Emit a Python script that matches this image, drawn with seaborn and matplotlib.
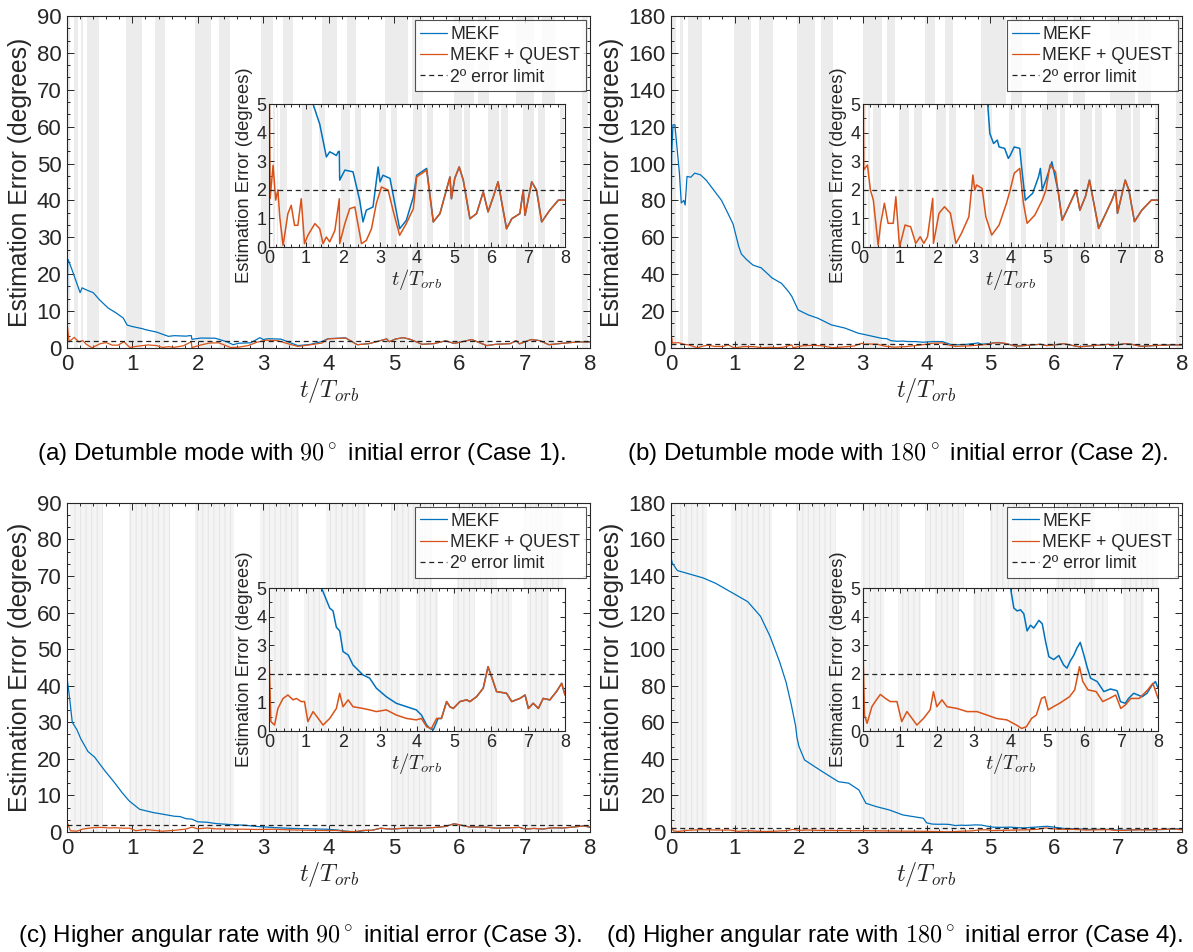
import matplotlib
matplotlib.use('Agg')
import matplotlib.pyplot as plt
from matplotlib.ticker import MultipleLocator, AutoMinorLocator
import pandas as pd
import seaborn as sns

# ---------------- data ----------------
# panel (a): detumble mode, 90 deg initial error
a_quest_t = [0, 0.008, 0.03, 0.11, 0.18, 0.24, 0.29, 0.38, 0.51, 0.6, 0.69, 0.78, 0.87, 0.96, 1.05,
             1.24, 1.37, 1.46, 1.55, 1.64, 1.78, 1.9, 1.91, 2.05, 2.18, 2.32, 2.5, 2.63, 2.77, 2.9,
             3.04, 3.22, 3.35, 3.53, 3.71, 3.9, 3.99, 4.26, 4.44, 4.62, 4.89, 4.93, 5.02, 5.14, 5.25,
             5.43, 5.61, 5.79, 5.92, 6.06, 6.19, 6.42, 6.56, 6.78, 6.87, 6.92, 7.1, 7.23, 7.37, 7.59,
             7.82, 8.0]
a_quest_v = [0.3, 5.6, 1.7, 2.86, 1.64, 2.0, 1.05, 0.06, 1.17, 1.46, 0.76, 0.76, 1.69, 0.12, 0.41,
             0.82, 0.64, 0.12, 0.35, 0.18, 0.58, 1.69, 0.12, 0.82, 1.34, 1.4, 0.12, 0.23, 0.64, 1.52,
             2.1, 1.99, 1.29, 0.41, 0.82, 1.34, 2.45, 2.69, 0.88, 1.17, 2.45, 1.69, 2.4, 2.8, 2.34,
             0.99, 1.17, 1.93, 1.23, 1.75, 2.28, 0.64, 0.99, 1.17, 1.99, 1.11, 2.28, 1.99, 0.88, 1.29,
             1.64, 1.64]
a_mekf_t = [0, 0.01, 0.02, 0.08, 0.12, 0.2, 0.23, 0.3, 0.4, 0.5, 0.63, 0.75, 0.86, 0.92, 1.0, 1.16,
            1.19, 1.37, 1.55, 1.64, 1.73, 1.82, 1.87, 1.9, 1.91, 2.05, 2.27, 2.45, 2.54, 2.63, 2.81,
            2.95, 3.0, 3.08, 3.27, 3.53, 3.71, 3.9, 3.99, 4.26]
a_mekf_v = [0.7, 24, 23.8, 21, 19, 15, 16.3, 15.7, 15, 13, 10.8, 9.5, 8.1, 6.2, 5.8, 5.2,
            5.0, 4.3, 3.15, 3.33, 3.27, 3.2, 3.33, 3.35, 2.34, 2.69, 2.63, 1.64, 0.88, 1.29, 1.4,
            2.8, 2.28, 2.51, 2.4, 0.64, 0.93, 1.75, 2.51, 2.75]
a_bands = [(0.0, 0.05), (0.1, 0.17), (0.21, 0.25), (0.3, 0.49), (0.9, 1.15), (1.35, 1.5),
           (1.95, 2.2), (2.33, 2.49), (2.96, 3.15), (3.3, 3.46), (3.9, 4.13), (4.28, 4.42),
           (4.87, 5.22), (5.27, 5.44), (5.92, 6.22), (6.28, 6.45), (6.86, 7.15), (7.27, 7.47),
           (7.87, 7.97)]

# panel (b): detumble mode, 180 deg initial error
b_quest_t = [0, 0.008, 0.02, 0.12, 0.2, 0.28, 0.41, 0.48, 0.58, 0.68, 0.82, 0.89, 0.99, 1.14, 1.29,
             1.43, 1.55, 1.65, 1.75, 1.89, 1.91, 2.06, 2.21, 2.37, 2.52, 2.67, 2.87, 2.98, 3.03, 3.08,
             3.23, 3.33, 3.49, 3.69, 3.89, 3.99, 4.1, 4.25, 4.35, 4.45, 4.66, 4.86, 4.96, 5.07, 5.22,
             5.32, 5.4, 5.53, 5.78, 5.88, 6.03, 6.14, 6.39, 6.54, 6.75, 6.85, 6.9, 7.11, 7.21, 7.36,
             7.56, 7.82, 8.0]
b_quest_v = [0.3, 5.6, 2.7, 2.87, 2.0, 1.64, 0.07, 0.83, 1.53, 0.83, 0.83, 1.76, 0.0, 0.77, 0.71,
             0.13, 0.36, 0.13, 0.36, 1.7, 0.13, 1.18, 1.41, 1.18, 0.13, 0.48, 1.06, 2.52, 1.99, 2.17,
             2.05, 1.06, 0.42, 0.77, 1.53, 1.99, 2.58, 2.75, 1.53, 0.83, 1.12, 1.64, 1.99, 2.87, 2.63,
             1.64, 0.94, 1.29, 1.99, 1.29, 1.76, 2.34, 0.65, 1.06, 1.64, 1.99, 1.18, 2.34, 1.99, 0.89,
             1.29, 1.64, 1.64]
b_mekf_t = [0, 0.01, 0.03, 0.06, 0.13, 0.16, 0.2, 0.22, 0.25, 0.31, 0.37, 0.46, 0.55, 0.67, 0.79,
            0.88, 0.97, 1.06, 1.1, 1.18, 1.28, 1.36, 1.41, 1.58, 1.73, 1.84, 1.89, 1.99, 2.15, 2.3,
            2.51, 2.72, 2.93, 3.04, 3.3, 3.38, 3.44, 3.54, 3.64, 3.69, 3.84, 3.94, 3.99, 4.1, 4.25,
            4.3, 4.4, 4.6, 4.76, 4.81, 4.86, 4.96, 5.12, 5.3]
b_mekf_v = [60, 105, 121, 121, 95, 78.6, 80, 77.5, 93, 92.6, 94.8, 93.9, 91, 85.5, 80,
            73.7, 67.3, 55, 51, 48, 45, 44, 43.5, 38, 35, 30.5, 28, 20.6, 17.9, 16.1,
            12.5, 10.8, 8, 7.2, 5.2, 5.0, 3.97, 3.62, 3.74, 3.5, 3.45, 3.1, 3.2, 3.5, 3.45,
            2.8, 1.64, 1.88, 2.46, 2.75, 2.0, 2.34, 2.98, 1.9]
b_bands = [(0.02, 0.07), (0.14, 0.19), (0.27, 0.48), (0.98, 1.25), (1.38, 1.6), (1.97, 2.25),
           (2.34, 2.53), (3.0, 3.3), (3.38, 3.5), (3.97, 4.13), (4.29, 4.42), (4.86, 5.25),
           (5.33, 5.49), (5.88, 6.22), (6.3, 6.48), (6.87, 7.27), (7.31, 7.52), (7.91, 7.99)]

# panel (c): higher angular rate, 90 deg initial error
c_quest_t = [0, 0.05, 0.15, 0.24, 0.38, 0.51, 0.65, 0.74, 0.87, 0.96, 1.05, 1.19, 1.33, 1.46, 1.64,
             1.82, 1.91, 2.0, 2.14, 2.27, 2.54, 2.72, 2.9, 3.17, 3.44, 3.72, 3.98, 4.12, 4.26, 4.39,
             4.53, 4.66, 4.8, 4.89, 4.98, 5.16, 5.34, 5.43, 5.61, 5.79, 5.92, 6.06, 6.15, 6.42, 6.56,
             6.78, 6.92, 7.01, 7.14, 7.28, 7.41, 7.59, 7.77, 7.91, 8.0]
c_quest_v = [2.78, 0.33, 0.21, 0.79, 1.14, 1.26, 1.09, 1.14, 1.03, 1.03, 0.33, 0.68, 0.44, 0.21, 0.44,
             0.79, 1.32, 0.85, 1.09, 0.85, 0.79, 0.74, 0.68, 0.74, 0.56, 0.44, 0.39, 0.44, 0.15, 0.09,
             0.44, 0.44, 1.03, 0.85, 0.79, 1.03, 1.09, 1.03, 1.2, 1.5, 2.25, 1.73, 1.38, 1.32, 1.03,
             1.14, 1.26, 0.79, 0.97, 0.79, 1.14, 1.09, 1.38, 1.67, 1.26]
c_mekf_t = [0, 0.03, 0.08, 0.15, 0.21, 0.32, 0.42, 0.58, 0.73, 0.84, 0.95, 1.11, 1.32, 1.42, 1.64,
            1.73, 1.82, 1.91, 2.0, 2.14, 2.27, 2.54, 2.72, 2.9, 3.17, 3.44, 3.72, 3.98, 4.12, 4.26,
            4.35, 4.44, 4.57]
c_mekf_v = [42, 38, 30, 28, 25.5, 22, 20.5, 16.7, 13.4, 10.8, 8.5, 6.2, 5.3, 5.0, 4.3,
            4.2, 3.63, 3.5, 2.78, 2.66, 2.31, 1.96, 1.85, 1.5, 1.2, 0.97, 0.85, 0.74, 0.56, 0.21,
            0.09, 0.04, 0.44]
c_bands = [(0.05, 0.55), (0.95, 1.57), (1.95, 2.55), (2.95, 3.55), (3.96, 4.58), (4.96, 5.58),
           (5.97, 6.58), (6.98, 7.58)]

# panel (d): higher angular rate, 180 deg initial error
d_quest_t = [0, 0.04, 0.11, 0.24, 0.33, 0.47, 0.61, 0.74, 0.92, 1.05, 1.19, 1.33, 1.46, 1.64, 1.82,
             1.91, 2.0, 2.14, 2.28, 2.55, 2.82, 3.09, 3.36, 3.62, 3.9, 4.16, 4.3, 4.43, 4.57, 4.7,
             4.84, 4.93, 5.02, 5.16, 5.33, 5.47, 5.6, 5.74, 5.87, 5.96, 6.1, 6.32, 6.5, 6.68, 6.85,
             6.99, 7.12, 7.26, 7.49, 7.72, 7.86, 8.0]
d_quest_v = [2.78, 0.56, 0.27, 0.85, 1.03, 1.28, 1.14, 1.03, 1.03, 0.33, 0.68, 0.44, 0.21, 0.44, 0.74,
             1.38, 0.85, 1.09, 0.85, 0.79, 0.68, 0.68, 0.56, 0.44, 0.39, 0.21, 0.09, 0.15, 0.44, 0.56,
             1.14, 1.2, 0.74, 0.85, 0.97, 1.09, 1.2, 1.44, 2.25, 1.73, 1.44, 1.38, 1.03, 1.14, 1.26,
             0.79, 0.92, 1.14, 1.14, 1.44, 1.67, 1.14]
d_mekf_t = [0, 0.02, 0.1, 0.3, 0.5, 0.7, 0.9, 1.05, 1.2, 1.4, 1.55, 1.7, 1.8, 1.88,
            1.95, 1.97, 2.0, 2.09, 2.25, 2.41, 2.62, 2.78, 2.94, 3.05, 3.21, 3.42, 3.63, 3.95, 4.0,
            4.09, 4.18, 4.27, 4.36, 4.45, 4.54, 4.63, 4.77, 4.86, 4.95, 5.04, 5.17, 5.31, 5.44, 5.53,
            5.62, 5.71, 5.8, 5.89, 5.98, 6.08, 6.17, 6.35, 6.53, 6.71, 6.89, 6.98, 7.11, 7.2, 7.34,
            7.57, 7.7, 7.84, 7.93, 8.0]
d_mekf_v = [150, 147, 143, 141, 139, 136, 132, 129, 126, 118, 107, 93, 82, 70,
            58, 52, 47, 39.4, 35.7, 32.1, 27.5, 26.7, 23, 15.7, 13.9, 12, 9.3, 7.5, 5.0,
            4.3, 4.2, 4.24, 4.1, 3.5, 3.7, 3.6, 3.87, 3.75, 3.13, 2.6, 2.5, 2.64, 2.31, 2.2,
            2.45, 2.64, 2.9, 3.1, 2.7, 2.22, 1.85, 1.73, 1.38, 1.47, 1.41, 1.03, 0.97, 1.14, 1.32,
            1.2, 1.32, 1.61, 1.73, 1.5]
d_bands = [(0.01, 0.57), (0.94, 1.58), (1.96, 2.59), (2.97, 3.58), (3.98, 4.59), (4.99, 5.63),
           (6.03, 6.64), (7.04, 7.63)]

captions = [r'(a) Detumble mode with $90^\circ$ initial error (Case 1).',
            r'(b) Detumble mode with $180^\circ$ initial error (Case 2).',
            r'(c) Higher angular rate with $90^\circ$ initial error (Case 3).',
            r'(d) Higher angular rate with $180^\circ$ initial error (Case 4).']


def with_tail(t_early, v_early, t_src, v_src, t_cut):
    # after convergence the MEKF trace sits on top of the MEKF + QUEST one
    t = list(t_early) + [x for x in t_src if x > t_cut]
    v = list(v_early) + [y for x, y in zip(t_src, v_src) if x > t_cut]
    return t, v


a_mekf_t, a_mekf_v = with_tail(a_mekf_t, a_mekf_v, a_quest_t, a_quest_v, 4.3)
b_mekf_t, b_mekf_v = with_tail(b_mekf_t, b_mekf_v, b_quest_t, b_quest_v, 5.35)
c_mekf_t, c_mekf_v = with_tail(c_mekf_t, c_mekf_v, c_quest_t, c_quest_v, 4.6)

# ---------------- style ----------------
sns.set_theme(style='ticks')
plt.rcParams['font.family'] = ['Liberation Sans', 'DejaVu Sans']
plt.rcParams['mathtext.fontset'] = 'cm'
plt.rcParams['hatch.linewidth'] = 0.7

BLUE = '#0072BD'
ORANGE = '#D95319'
DARK = '#262626'

fig = plt.figure(figsize=(11.93, 9.52), dpi=100)

# main axes and inset boxes in figure fractions
main_pos = [[0.0562, 0.6345, 0.4384, 0.3487], [0.5625, 0.6345, 0.4283, 0.3487],
            [0.0562, 0.1261, 0.4384, 0.3456], [0.5625, 0.1261, 0.4283, 0.3456]]
inset_pos = [[0.2255, 0.7405, 0.2481, 0.1502], [0.7234, 0.7405, 0.2473, 0.1502],
             [0.2255, 0.2321, 0.2481, 0.1502], [0.7234, 0.2321, 0.2473, 0.1502]]
caption_xy = [(0.253, 0.522), (0.752, 0.522), (0.251, 0.016), (0.750, 0.016)]

panels = [
    (a_mekf_t, a_mekf_v, a_quest_t, a_quest_v, a_bands, False, 90, 10),
    (b_mekf_t, b_mekf_v, b_quest_t, b_quest_v, b_bands, False, 180, 20),
    (c_mekf_t, c_mekf_v, c_quest_t, c_quest_v, c_bands, True, 90, 10),
    (d_mekf_t, d_mekf_v, d_quest_t, d_quest_v, d_bands, True, 180, 20),
]


def shade(ax, bands, striped):
    for t0, t1 in bands:
        if striped:
            ax.axvspan(t0, t1, facecolor='#f4f4f4', edgecolor='#e4e4e4',
                       hatch='|||', lw=0, zorder=0)
        else:
            ax.axvspan(t0, t1, color='#ececec', lw=0, zorder=0)


def dress(ax, ymax, ystep, yminor, fs):
    ax.set_xlim(0, 8)
    ax.set_ylim(0, ymax)
    ax.xaxis.set_major_locator(MultipleLocator(1))
    ax.xaxis.set_minor_locator(AutoMinorLocator(5))
    ax.yaxis.set_major_locator(MultipleLocator(ystep))
    ax.yaxis.set_minor_locator(AutoMinorLocator(yminor))
    ax.tick_params(which='both', direction='in', top=True, right=True,
                   color=DARK, labelcolor=DARK, labelsize=fs, width=0.7)
    ax.tick_params(which='major', length=5, pad=4)
    ax.tick_params(which='minor', length=2.5)
    for s in ax.spines.values():
        s.set_color(DARK)
        s.set_linewidth(0.8)


for i, (mt, mv, qt, qv, bands, striped, ymax, ystep) in enumerate(panels):
    ax = fig.add_axes(main_pos[i])
    ax.set_facecolor('white')
    shade(ax, bands, striped)
    sns.lineplot(x=mt, y=mv, ax=ax, color=BLUE, lw=0.9, estimator=None, sort=False,
                 label='MEKF', legend=False)
    sns.lineplot(x=qt, y=qv, ax=ax, color=ORANGE, lw=0.9, estimator=None, sort=False,
                 label='MEKF + QUEST', legend=False)
    ax.axhline(2, color='#222222', lw=0.9, dashes=(4, 3), label='2º error limit')
    dress(ax, ymax, ystep, 3, 16)
    ax.set_xlabel(r'$t/T_{orb}$', fontsize=17.5, color=DARK, labelpad=1)
    ax.set_ylabel('Estimation Error (degrees)', fontsize=17.8, color=DARK, labelpad=3)
    leg = ax.legend(loc='upper right', fontsize=12.7, frameon=True, fancybox=False,
                    handlelength=1.5, handletextpad=0.2, labelspacing=0.25,
                    borderpad=0.3, borderaxespad=0.25)
    leg.get_frame().set_edgecolor(DARK)
    leg.get_frame().set_linewidth(0.8)

    # zoomed inset on the 0-5 degree band
    ax_in = fig.add_axes(inset_pos[i])
    ax_in.set_facecolor('white')
    shade(ax_in, bands, striped)
    sns.lineplot(x=mt, y=mv, ax=ax_in, color=BLUE, lw=1.1, estimator=None, sort=False)
    sns.lineplot(x=qt, y=qv, ax=ax_in, color=ORANGE, lw=1.1, estimator=None, sort=False)
    ax_in.axhline(2, color='#222222', lw=0.9, dashes=(4, 3))
    dress(ax_in, 5, 1, 2, 13)
    ax_in.tick_params(which='major', length=3.5, pad=2)
    ax_in.tick_params(which='minor', length=2)
    ax_in.set_xlabel(r'$t/T_{orb}$', fontsize=14.8, color=DARK, labelpad=0)
    ax_in.set_ylabel('Estimation Error (degrees)', fontsize=13.2, color=DARK, labelpad=2)

    fig.text(caption_xy[i][0], caption_xy[i][1], captions[i], fontsize=17.4,
             ha='center', va='center', color='black')

fig.savefig('out.png', dpi=100)
